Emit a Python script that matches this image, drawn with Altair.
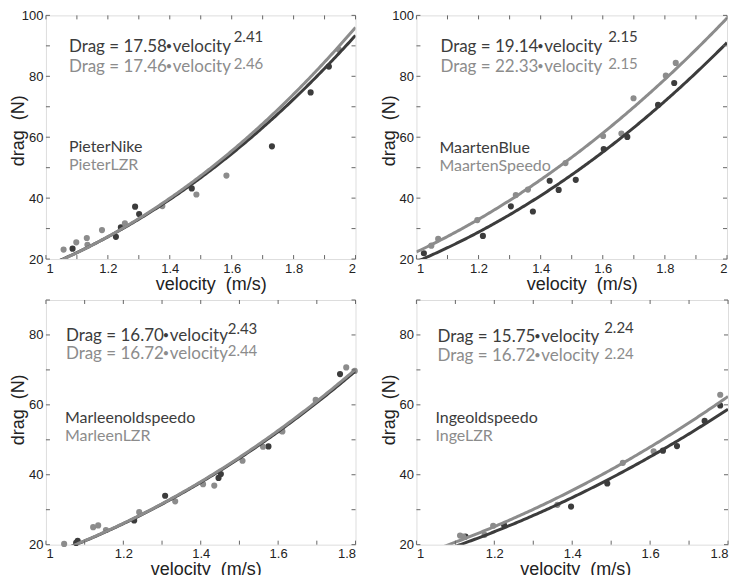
import altair as alt
import pandas as pd

DARK = "#3c3c3c"
LIGHT = "#8c8c8c"
TICK = "#666666"
ANNOT_FONT = "Lato"
AXIS_FONT = "Liberation Sans"

NAMES_DARK = ["PieterNike", "MaartenBlue", "Marleenoldspeedo", "Ingeoldspeedo"]
NAMES_LIGHT = ["PieterLZR", "MaartenSpeedo", "MarleenLZR", "IngeLZR"]
# coefficients as printed on the chart
COEF_DARK = [17.58, 19.14, 16.70, 15.75]
EXP_DARK = [2.41, 2.15, 2.43, 2.24]
COEF_LIGHT = [17.46, 22.33, 16.72, 16.72]
EXP_LIGHT = [2.46, 2.15, 2.44, 2.24]
# exponents of the curves as they are drawn (the MaartenBlue curve is steeper than its label)
CURVE_EXP_DARK = [2.41, 2.25, 2.43, 2.24]
CURVE_EXP_LIGHT = [2.46, 2.15, 2.44, 2.24]

X_MAX = [2.0, 2.0, 1.8, 1.8]
Y_MAX = [100, 100, 90, 90]
X_TICKS = [
    [1.0, 1.1, 1.2, 1.3, 1.4, 1.5, 1.6, 1.7, 1.8, 1.9, 2.0],
    [1.0, 1.1, 1.2, 1.3, 1.4, 1.5, 1.6, 1.7, 1.8, 1.9, 2.0],
    [1.0, 1.1, 1.2, 1.3, 1.4, 1.5, 1.6, 1.7, 1.8],
    [1.0, 1.1, 1.2, 1.3, 1.4, 1.5, 1.6, 1.7, 1.8],
]
X_LABELS = [
    [1.0, 1.2, 1.4, 1.6, 1.8, 2.0],
    [1.0, 1.2, 1.4, 1.6, 1.8, 2.0],
    [1.0, 1.2, 1.4, 1.6, 1.8],
    [1.0, 1.2, 1.4, 1.6, 1.8],
]
Y_TICKS = [
    [20, 30, 40, 50, 60, 70, 80, 90, 100],
    [20, 30, 40, 50, 60, 70, 80, 90, 100],
    [20, 30, 40, 50, 60, 70, 80, 90],
    [20, 30, 40, 50, 60, 70, 80, 90],
]
Y_LABELS = [
    [20, 40, 60, 80, 100],
    [20, 40, 60, 80, 100],
    [20, 40, 60, 80],
    [20, 40, 60, 80],
]

# measured points (velocity m/s, drag N)
P1_DARK_V = [1.086, 1.226, 1.242, 1.288, 1.301, 1.471, 1.730, 1.855, 1.914]
P1_DARK_D = [23.4, 27.3, 30.4, 37.2, 34.8, 43.2, 57.0, 74.7, 83.2]
P1_LIGHT_V = [1.057, 1.098, 1.132, 1.134, 1.181, 1.255, 1.376, 1.486, 1.583, 1.946]
P1_LIGHT_D = [23.1, 25.5, 26.9, 24.7, 29.5, 31.7, 37.4, 41.2, 47.4, 88.8]

P2_DARK_V = [1.024, 1.214, 1.304, 1.375, 1.429, 1.458, 1.513, 1.603, 1.679, 1.778, 1.830]
P2_DARK_D = [21.9, 27.6, 37.3, 35.6, 45.7, 42.7, 46.0, 56.1, 60.1, 70.6, 77.8]
P2_LIGHT_V = [1.048, 1.070, 1.196, 1.320, 1.359, 1.480, 1.601, 1.660, 1.699, 1.803, 1.835]
P2_LIGHT_D = [24.4, 26.6, 32.8, 41.0, 42.8, 51.5, 60.4, 61.2, 72.8, 80.2, 84.4]

P3_DARK_V = [1.078, 1.082, 1.228, 1.308, 1.446, 1.452, 1.575, 1.609, 1.760]
P3_DARK_D = [20.5, 21.1, 26.9, 34.0, 39.1, 40.2, 48.1, 52.6, 68.8]
P3_LIGHT_V = [1.047, 1.122, 1.135, 1.155, 1.241, 1.334, 1.406, 1.435, 1.508, 1.561, 1.611, 1.697, 1.776, 1.798]
P3_LIGHT_D = [20.2, 25.0, 25.5, 24.2, 29.3, 32.4, 37.3, 36.9, 44.0, 48.0, 52.4, 61.4, 70.7, 69.7]

P4_DARK_V = [1.126, 1.225, 1.397, 1.490, 1.633, 1.669, 1.740, 1.780]
P4_DARK_D = [22.3, 25.6, 30.9, 37.5, 46.9, 48.2, 55.4, 59.8]
P4_LIGHT_V = [1.112, 1.120, 1.175, 1.197, 1.362, 1.530, 1.609, 1.780]
P4_LIGHT_D = [22.6, 22.3, 22.8, 25.4, 31.4, 43.4, 46.7, 62.9]

POINTS = [
    (P1_DARK_V, P1_DARK_D, P1_LIGHT_V, P1_LIGHT_D),
    (P2_DARK_V, P2_DARK_D, P2_LIGHT_V, P2_LIGHT_D),
    (P3_DARK_V, P3_DARK_D, P3_LIGHT_V, P3_LIGHT_D),
    (P4_DARK_V, P4_DARK_D, P4_LIGHT_V, P4_LIGHT_D),
]

# layout (pixels within each plot area)
SIZES = [(310, 244), (311, 244), (310, 245), (312, 245)]
EQ_X = [23, 24, 20, 21]
DOT_DX = 97      # left of the dot, from the start of the equation
VEL_DX = 104     # start of "velocity", from the start of the equation
SUP_X = [188, 192, 182, 188]
EQ_Y = [(32, 52), (32, 52), (36, 54), (37, 56)]
SUP_Y = [(22, 49), (22, 49), (29, 51), (28, 54)]
LAB_X = [23, 23, 19, 19]
LAB_Y = [(132, 150), (133, 151), (118, 136), (118, 136)]
XTITLE_SHIFT = [10, 10, 5, 3]
YTITLE_SHIFT = [-7, -7, -13, -13]
TICK_LEN = 4

color_scale = alt.Scale(domain=["dark", "light"], range=[DARK, LIGHT])


def txt(s, x, y, size, color):
    return alt.Chart(alt.Data(values=[{"t": s}])).mark_text(
        align="left", baseline="middle", font=ANNOT_FONT,
        fontSize=size, color=color
    ).encode(x=alt.value(x), y=alt.value(y), text="t:N")


def equation(coef, x, y, color):
    return [
        txt(f"Drag = {coef:.2f}", x, y, 17, color),
        txt("\u2022", x + DOT_DX, y, 11, color),
        txt("velocity", x + VEL_DX, y, 17, color),
    ]


def panel(i):
    w, h = SIZES[i]
    dv, dd, lv, ld = POINTS[i]
    pts = pd.DataFrame({
        "v": dv + lv,
        "d": dd + ld,
        "s": ["dark"] * len(dv) + ["light"] * len(lv),
    })
    xs = alt.Scale(domain=[1.0, X_MAX[i]], nice=False, zero=False)
    ys = alt.Scale(domain=[20, Y_MAX[i]], nice=False, zero=False)

    x_axis = alt.Axis(
        values=X_LABELS[i], format="~g", ticks=False, domain=False, grid=False,
        labelFont=AXIS_FONT, labelFontSize=13, labelColor="#222", labelPadding=3,
        title="velocity\u00a0 (m/s)", titleFont=AXIS_FONT, titleFontSize=18,
        titleFontWeight="normal", titleColor="#222", titlePadding=0,
        titleX=w / 2 + XTITLE_SHIFT[i],
    )
    y_axis = alt.Axis(
        values=Y_LABELS[i], ticks=False, domain=False, grid=False,
        labelFont=AXIS_FONT, labelFontSize=13, labelColor="#222", labelPadding=3,
        minExtent=18, maxExtent=18,
        title="drag\u00a0 (N)", titleFont=AXIS_FONT, titleFontSize=18,
        titleFontWeight="normal", titleColor="#222", titlePadding=0,
        titleY=h / 2 + YTITLE_SHIFT[i],
    )

    points = alt.Chart(pts).mark_circle(size=38, opacity=1).encode(
        x=alt.X("v:Q", scale=xs, axis=x_axis),
        y=alt.Y("d:Q", scale=ys, axis=y_axis),
        color=alt.Color("s:N", scale=color_scale, legend=None),
    )

    curves = alt.Chart(alt.sequence(1.0, X_MAX[i] + 0.001, 0.005, as_="v")).transform_calculate(
        dark=f"{COEF_DARK[i]}*pow(datum.v, {CURVE_EXP_DARK[i]})",
        light=f"{COEF_LIGHT[i]}*pow(datum.v, {CURVE_EXP_LIGHT[i]})",
    ).transform_fold(["dark", "light"], as_=["s", "d"]).mark_line(
        strokeWidth=3, clip=True
    ).encode(
        x=alt.X("v:Q", scale=xs, axis=x_axis),
        y=alt.Y("d:Q", scale=ys, axis=y_axis),
        color=alt.Color("s:N", scale=color_scale, legend=None),
        detail="s:N",
    )

    xt = pd.DataFrame({"t": X_TICKS[i]})
    yt = pd.DataFrame({"t": Y_TICKS[i]})
    rule = dict(color=TICK, strokeWidth=1)
    xt_bottom = alt.Chart(xt).mark_rule(**rule).encode(
        x=alt.X("t:Q", scale=xs, axis=x_axis), y=alt.value(h), y2=alt.value(h - TICK_LEN))
    xt_top = alt.Chart(xt).mark_rule(**rule).encode(
        x=alt.X("t:Q", scale=xs, axis=x_axis), y=alt.value(0), y2=alt.value(TICK_LEN))
    yt_left = alt.Chart(yt).mark_rule(**rule).encode(
        y=alt.Y("t:Q", scale=ys, axis=y_axis), x=alt.value(0), x2=alt.value(TICK_LEN))
    yt_right = alt.Chart(yt).mark_rule(**rule).encode(
        y=alt.Y("t:Q", scale=ys, axis=y_axis), x=alt.value(w), x2=alt.value(w - TICK_LEN))

    texts = (
        equation(COEF_DARK[i], EQ_X[i], EQ_Y[i][0], DARK)
        + [txt(f"{EXP_DARK[i]:.2f}", SUP_X[i], SUP_Y[i][0], 15, DARK)]
        + equation(COEF_LIGHT[i], EQ_X[i], EQ_Y[i][1], LIGHT)
        + [txt(f"{EXP_LIGHT[i]:.2f}", SUP_X[i], SUP_Y[i][1], 15, LIGHT)]
        + [txt(NAMES_DARK[i], LAB_X[i], LAB_Y[i][0], 16, DARK),
           txt(NAMES_LIGHT[i], LAB_X[i], LAB_Y[i][1], 16, LIGHT)]
    )

    return alt.layer(
        points, curves, xt_bottom, xt_top, yt_left, yt_right, *texts
    ).properties(width=w, height=h)


top = alt.hconcat(panel(0), panel(1), spacing=23)
bottom = alt.hconcat(panel(2), panel(3), spacing=21)
chart = alt.vconcat(top, bottom, spacing=5).properties(
    padding={"left": 1, "top": 0, "right": 0, "bottom": 0}
).configure_view(stroke="#444", strokeWidth=1).configure(background="white")

chart.save("out.html", embed_options={"renderer": "svg", "actions": False})
